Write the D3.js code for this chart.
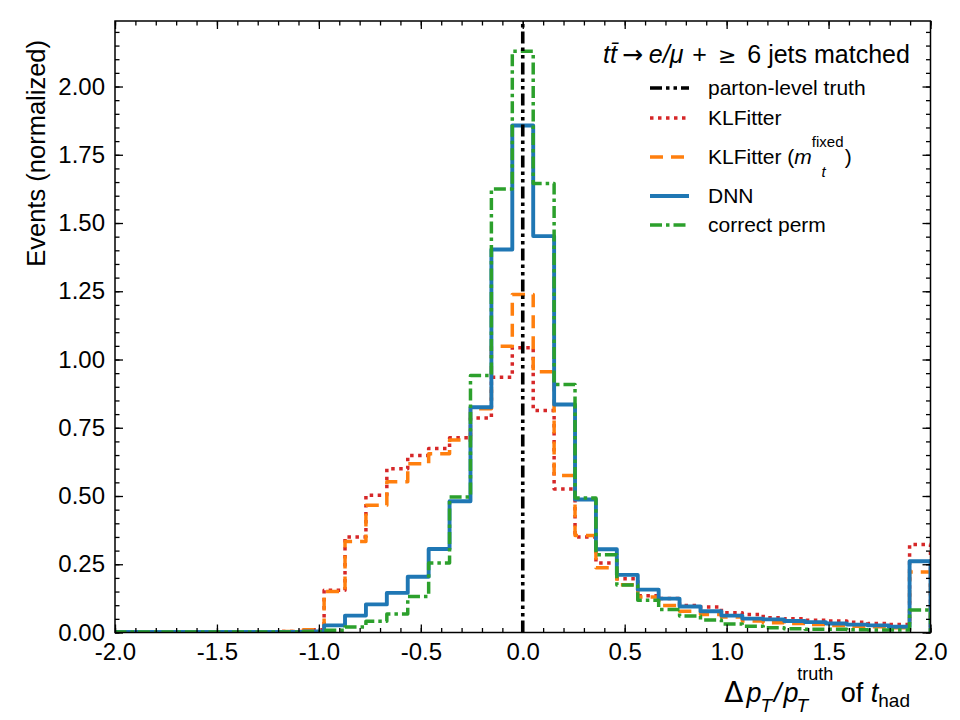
<!DOCTYPE html>
<html>
<head>
<meta charset="utf-8">
<script src="https://cdn.jsdelivr.net/npm/d3@7"></script>
<style>
	body { margin: 0; background: #fff; }
	svg { font-family: "Liberation Sans", Arial, Helvetica, sans-serif; }
	.tick text { font-size: 24px; fill: #000; }
	.tick line { stroke: #000; stroke-width: 1.3; }
</style>
</head>
<body>
<div id="chart"></div>
<script>
	// histogram range, 39 equal bins between -2 and 2
	var xMin = -2, xMax = 2, nBins = 39;

	// bin heights, bin 0 = leftmost
	var klfitter = [0.002, 0.002, 0.002, 0.002, 0.002, 0.002, 0.002, 0.002, 0.004, 0.010,
		0.155, 0.350, 0.503, 0.600, 0.648, 0.674, 0.713, 0.786, 0.935, 1.043,
		0.813, 0.526, 0.350, 0.255, 0.197, 0.135, 0.125, 0.099, 0.093, 0.072,
		0.066, 0.054, 0.050, 0.045, 0.042, 0.038, 0.033, 0.029, 0.322];
	var klfitterFixed = [0.002, 0.002, 0.002, 0.002, 0.002, 0.002, 0.002, 0.002, 0.004, 0.010,
		0.150, 0.333, 0.466, 0.552, 0.618, 0.655, 0.705, 0.820, 1.049, 1.238,
		0.955, 0.575, 0.355, 0.237, 0.175, 0.130, 0.099, 0.078, 0.066, 0.057,
		0.042, 0.036, 0.033, 0.029, 0.026, 0.023, 0.021, 0.017, 0.222];
	var dnn = [0.002, 0.002, 0.002, 0.002, 0.002, 0.002, 0.002, 0.002, 0.002, 0.004,
		0.026, 0.062, 0.103, 0.145, 0.204, 0.306, 0.481, 0.825, 1.403, 1.857,
		1.452, 0.835, 0.487, 0.305, 0.211, 0.157, 0.124, 0.095, 0.078, 0.062,
		0.051, 0.048, 0.042, 0.038, 0.033, 0.029, 0.026, 0.021, 0.261];
	var correctPerm = [0.002, 0.002, 0.002, 0.002, 0.002, 0.002, 0.002, 0.002, 0.002, 0.003,
		0.008, 0.020, 0.041, 0.068, 0.132, 0.255, 0.496, 0.941, 1.625, 2.129,
		1.645, 0.908, 0.493, 0.285, 0.174, 0.118, 0.084, 0.060, 0.046, 0.031,
		0.023, 0.017, 0.014, 0.012, 0.012, 0.010, 0.009, 0.009, 0.082];
	var truthValue = 0.0;

	var xTicks = [-2.0, -1.5, -1.0, -0.5, 0.0, 0.5, 1.0, 1.5, 2.0];
	var xTickLabels = ["-2.0", "-1.5", "-1.0", "-0.5", "0.0", "0.5", "1.0", "1.5", "2.0"];
	var yTicks = [0, 0.25, 0.5, 0.75, 1.0, 1.25, 1.5, 1.75, 2.0];
	var yTickLabels = ["0.00", "0.25", "0.50", "0.75", "1.00", "1.25", "1.50", "1.75", "2.00"];
	var yMax = 2.24;

	var width = 960, height = 720;
	var margin = {top: 21, left: 115, right: 29.5, bottom: 87.5},
		w = width - margin.left - margin.right,
		h = height - margin.top - margin.bottom;

	var svg = d3.select("#chart")
				.append("svg")
				.attr("width", width)
				.attr("height", height);

	var g = svg.append("g")
				.attr("transform", "translate(" + margin.left + "," + margin.top + ")");

	var x = d3.scaleLinear().domain([xMin, xMax]).range([0, w]);
	var y = d3.scaleLinear().domain([0, yMax]).range([h, 0]);

	var edges = d3.range(nBins + 1).map(function(i){ return xMin + i * (xMax - xMin) / nBins; });

	svg.append("defs").append("clipPath").attr("id", "plot-clip")
		.append("rect").attr("width", w).attr("height", h);

	// series styles, in drawing order
	var series = [
		{name: "KLFitter", values: klfitter, color: "#d62728", width: 3.5, dash: "3.5,4.5"},
		{name: "KLFitterFixed", values: klfitterFixed, color: "#ff7f0e", width: 3.5, dash: "13,8"},
		{name: "DNN", values: dnn, color: "#1f77b4", width: 3.9, dash: null},
		{name: "correct perm", values: correctPerm, color: "#2ca02c", width: 3.5, dash: "12,4,3.5,4"}
	];
	var truthStyle = {color: "#000", width: 3.6, dash: "12,4,3.5,4,3.5,4"};

	function stepPoints(values){
		var pts = [[edges[0], 0]];
		values.forEach(function(v, i){ pts.push([edges[i], v]); });
		pts.push([edges[nBins], values[nBins - 1]]);
		pts.push([edges[nBins], 0]);
		return pts;
	}

	var line = d3.line()
		.x(function(d){ return x(d[0]); })
		.y(function(d){ return y(d[1]); })
		.curve(d3.curveStepAfter);

	var plot = g.append("g").attr("clip-path", "url(#plot-clip)");

	series.forEach(function(s){
		plot.append("path")
			.attr("d", line(stepPoints(s.values)))
			.attr("fill", "none")
			.attr("stroke", s.color)
			.attr("stroke-width", s.width)
			.attr("stroke-linejoin", "round")
			.attr("stroke-dasharray", s.dash);
	});

	plot.append("line")
		.attr("x1", x(truthValue)).attr("x2", x(truthValue))
		.attr("y1", y(0)).attr("y2", y(yMax))
		.attr("stroke", truthStyle.color)
		.attr("stroke-width", truthStyle.width)
		.attr("stroke-dasharray", truthStyle.dash);

	// axes: inward ticks on all four sides
	var xMinor = d3.range(-20, 21).map(function(i){ return i / 10; });
	var yMinor = d3.range(0, 45).map(function(i){ return i / 20; });

	function styleAxis(sel){
		sel.select(".domain").remove();
	}

	g.append("g").attr("transform", "translate(0," + h + ")")
		.call(d3.axisBottom(x).tickValues(xTicks)
			.tickFormat(function(d, i){ return xTickLabels[i]; })
			.tickSize(-8).tickPadding(10.5))
		.call(styleAxis);
	g.append("g").attr("transform", "translate(0," + h + ")")
		.call(d3.axisBottom(x).tickValues(xMinor).tickFormat("").tickSize(-4.5))
		.call(styleAxis);
	g.append("g")
		.call(d3.axisTop(x).tickValues(xTicks).tickFormat("").tickSize(-8))
		.call(styleAxis);
	g.append("g")
		.call(d3.axisTop(x).tickValues(xMinor).tickFormat("").tickSize(-4.5))
		.call(styleAxis);

	g.append("g")
		.call(d3.axisLeft(y).tickValues(yTicks)
			.tickFormat(function(d, i){ return yTickLabels[i]; })
			.tickSize(-8).tickPadding(10))
		.call(styleAxis);
	g.append("g")
		.call(d3.axisLeft(y).tickValues(yMinor).tickFormat("").tickSize(-4.5))
		.call(styleAxis);
	g.append("g").attr("transform", "translate(" + w + ",0)")
		.call(d3.axisRight(y).tickValues(yTicks).tickFormat("").tickSize(-8))
		.call(styleAxis);
	g.append("g").attr("transform", "translate(" + w + ",0)")
		.call(d3.axisRight(y).tickValues(yMinor).tickFormat("").tickSize(-4.5))
		.call(styleAxis);

	g.append("rect")
		.attr("width", w).attr("height", h)
		.attr("fill", "none").attr("stroke", "#000").attr("stroke-width", 1.5);

	// axis labels
	svg.append("text")
		.attr("transform", "translate(45,40) rotate(-90)")
		.attr("text-anchor", "end")
		.attr("font-size", 25.5)
		.text("Events (normalized)");

	var xl = svg.append("text")
		.attr("x", 910).attr("y", 702)
		.attr("text-anchor", "end")
		.attr("font-size", 27);
	xl.append("tspan").attr("font-family", "DejaVu Sans").attr("font-size", 28).text("\u0394");
	xl.append("tspan").attr("font-style", "italic").attr("dx", 3).text("p");
	xl.append("tspan").attr("font-style", "italic").attr("font-size", 19).attr("dy", 10).attr("dx", -1).text("T");
	xl.append("tspan").attr("font-style", "italic").attr("dy", -10).attr("dx", 2).text("/");
	xl.append("tspan").attr("font-style", "italic").attr("dx", 2).text("p");
	xl.append("tspan").attr("font-style", "italic").attr("font-size", 19).attr("dy", 10).attr("dx", -2).text("T");
	xl.append("tspan").attr("font-size", 18).attr("dy", -32).attr("dx", -11).text("truth");
	xl.append("tspan").attr("dy", 22).text(" of ");
	xl.append("tspan").attr("font-style", "italic").text("t");
	xl.append("tspan").attr("font-size", 19).attr("dy", 5).text("had");

	// legend
	var title = svg.append("text")
		.attr("x", 603).attr("y", 63)
		.attr("font-size", 25);
	title.append("tspan").attr("font-style", "italic").text("t");
	title.append("tspan").attr("font-style", "italic").text("t\u0304");
	title.append("tspan").attr("font-family", "DejaVu Sans").attr("dx", 5).text("\u2192");
	title.append("tspan").attr("font-style", "italic").attr("dx", 6).text("e/\u03bc");
	title.append("tspan").attr("dx", 2).text(" + ");
	title.append("tspan").attr("font-family", "DejaVu Sans").attr("font-size", 22).attr("dx", 4).text("\u2265");
	title.append("tspan").attr("dx", 4).text(" 6 jets matched");

	var legendItems = [
		{label: "parton-level truth", style: truthStyle, y: 88},
		{label: "KLFitter", style: series[0], y: 118},
		{label: null, style: series[1], y: 157},
		{label: "DNN", style: series[2], y: 196},
		{label: "correct perm", style: series[3], y: 225}
	];

	var legend = svg.append("g");
	legendItems.forEach(function(item){
		legend.append("line")
			.attr("x1", 650).attr("x2", 689)
			.attr("y1", item.y).attr("y2", item.y)
			.attr("stroke", item.style.color)
			.attr("stroke-width", item.style.width)
			.attr("stroke-dasharray", item.style.dash);
		var t = legend.append("text")
			.attr("x", 708).attr("y", item.y + 7)
			.attr("font-size", 21);
		if (item.label) {
			t.text(item.label);
		} else {
			t.append("tspan").text("KLFitter (");
			t.append("tspan").attr("font-style", "italic").text("m");
			t.append("tspan").attr("font-size", 15).attr("dy", -17).text("fixed");
			t.append("tspan").attr("font-style", "italic").attr("font-size", 15).attr("dy", 30).attr("dx", -22).text("t");
			t.append("tspan").attr("dy", -13).attr("dx", 19).text(")");
		}
	});
</script>
</body>
</html>
